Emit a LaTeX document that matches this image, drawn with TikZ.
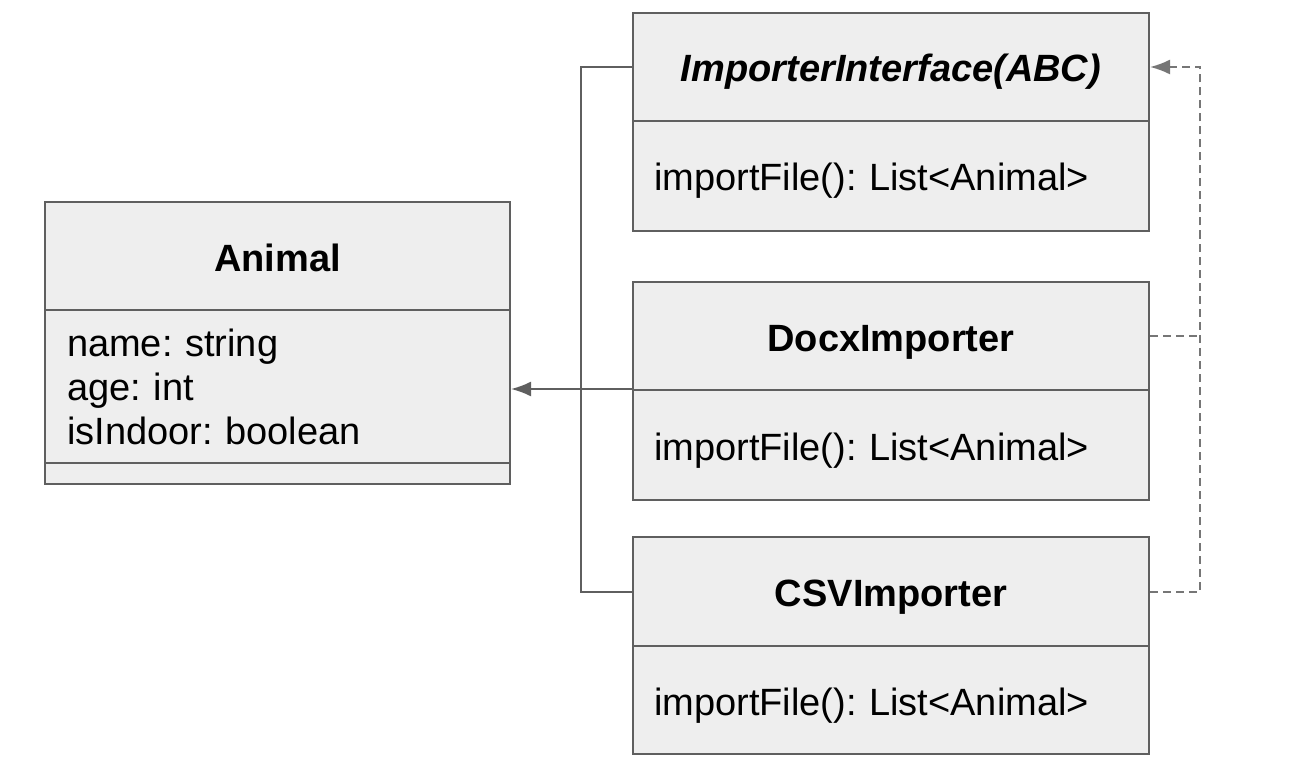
\documentclass[tikz,border=0pt]{standalone}
\usepackage{fontspec}
\setmainfont{Liberation Sans}
\frenchspacing
\usetikzlibrary{arrows.meta}
\definecolor{boxfill}{HTML}{EEEEEE}
\definecolor{boxline}{HTML}{5F5F5F}
\definecolor{dashline}{HTML}{767676}
\tikzset{
  classhead/.style={draw=boxline, fill=boxfill, line width=2pt, anchor=north west, inner sep=0pt,
    text height=30pt, text depth=0pt,
    minimum width=516pt, minimum height=108pt, font=\fontsize{38}{44}\selectfont\bfseries},
  classbody/.style={draw=boxline, fill=boxfill, line width=2pt, anchor=north west, inner xsep=21pt, inner ysep=0pt,
    text width=474pt, align=left, minimum height=110pt, font=\fontsize{38}{44}\selectfont},
  oneline/.style={text height=30pt, text depth=0pt},
  link/.style={draw=boxline, line width=2pt},
  realize/.style={draw=dashline, line width=2pt, dash pattern=on 8pt off 5pt}
}
\begin{document}
\begin{tikzpicture}[x=1pt, y=-1pt]
\useasboundingbox (0,0) rectangle (1312,770);

\node[classhead, minimum width=465pt] (animalhead) at (44,201) {Animal};
\node[classbody, text width=421pt, inner xsep=22pt, minimum height=153pt] (animalbody) at (44,309) {name: string\\age: int\\isIndoor: boolean};
\node[classbody, text width=421pt, inner xsep=22pt, minimum height=21pt] (animalfoot) at (44,462) {};

\node[classhead, font=\fontsize{38}{44}\selectfont\bfseries\itshape] (ifacehead) at (632,12) {ImporterInterface(ABC)};
\node[classbody, oneline] (ifacebody) at (632,120) {importFile(): List<Animal>};

\node[classhead] (docxhead) at (632,281) {DocxImporter};
\node[classbody, oneline] (docxbody) at (632,389) {importFile(): List<Animal>};

\node[classhead, minimum height=109pt] (csvhead) at (632,536) {CSVImporter};
\node[classbody, oneline, minimum height=108pt] (csvbody) at (632,645) {importFile(): List<Animal>};

\coordinate (bus) at (581,0);
\coordinate (rail) at (1200,0);

\draw[link] (ifacehead.west) -- (ifacehead.west -| bus) |- (csvhead.west);
\draw[link, -{Latex[length=20pt,width=15pt]}] (docxbody.north west) -- (docxbody.north west -| animalbody.east);

\draw[realize, -{Latex[length=20pt,width=15pt]}] (csvhead.east) -- (csvhead.east -| rail) |- (ifacehead.east);
\draw[realize] (docxhead.east) -- (docxhead.east -| rail);

\end{tikzpicture}
\end{document}
